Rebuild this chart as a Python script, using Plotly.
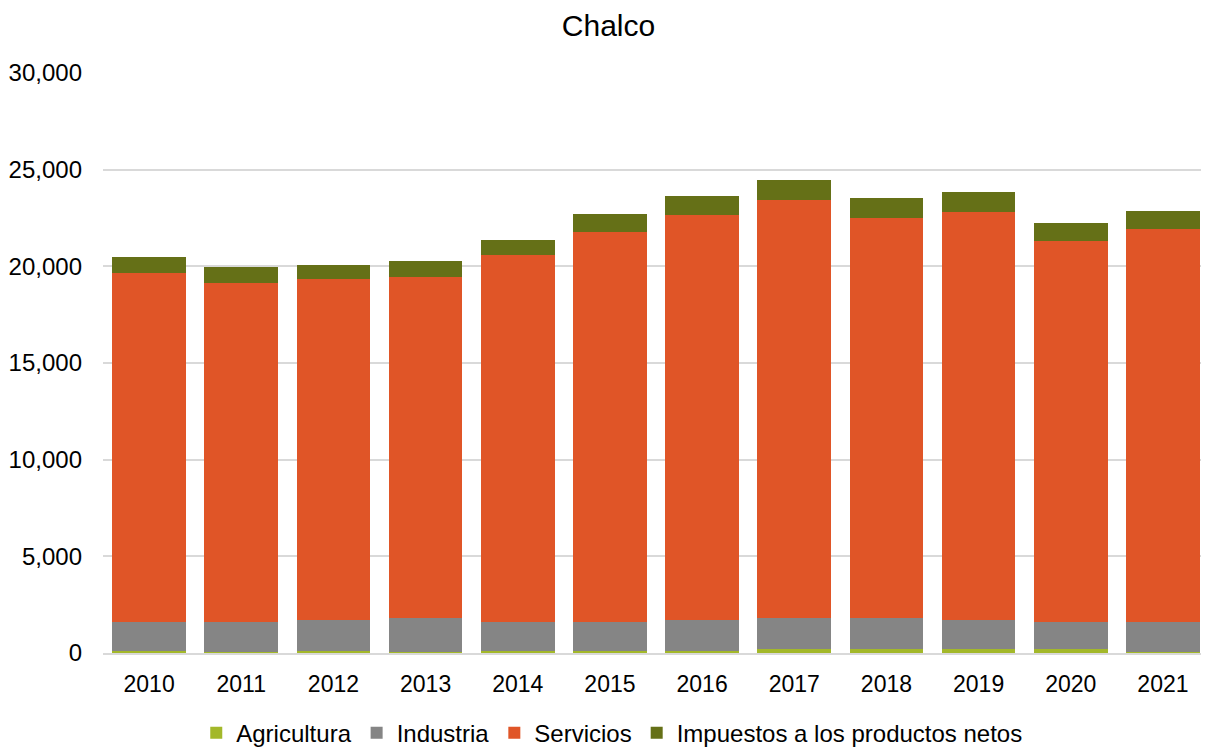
import plotly.graph_objects as go

years = ["2010", "2011", "2012", "2013", "2014", "2015", "2016", "2017", "2018", "2019", "2020", "2021"]
agricultura = [100, 30, 100, 40, 100, 100, 100, 200, 200, 200, 200, 30]
industria = [1500, 1570, 1600, 1760, 1500, 1500, 1600, 1600, 1600, 1500, 1400, 1570]
servicios = [18040, 17520, 17650, 17650, 18970, 20200, 20930, 21640, 20710, 21120, 19690, 20310]
impuestos = [820, 820, 710, 810, 810, 930, 1030, 1030, 1030, 1030, 930, 930]

series = [
    ("Agricultura", agricultura, "#a3b82a"),
    ("Industria", industria, "#858585"),
    ("Servicios", servicios, "#e05527"),
    ("Impuestos a los productos netos", impuestos, "#657017"),
]

fig = go.Figure()
for name, vals, col in series:
    fig.add_trace(go.Bar(x=years, y=vals, name=name, marker=dict(color=col, line=dict(width=0))))

fig.update_layout(
    barmode="stack",
    bargap=0.2,
    width=1201, height=741,
    paper_bgcolor="white", plot_bgcolor="white",
    font=dict(family="Liberation Sans, Arial, sans-serif", size=24, color="#000000"),
    title=dict(text="Chalco", x=0.5, xanchor="center", yref="container", y=0.99, yanchor="top",
               font=dict(size=30, color="#000000")),
    margin=dict(l=95, r=0, t=64, b=96, autoexpand=False),
    xaxis=dict(showgrid=False, showline=True, linecolor="#d9d9d9", linewidth=1.5,
               ticks="", tickfont=dict(size=23), ticklabelstandoff=10, automargin=False),
    yaxis=dict(range=[0, 30050], tickvals=[0, 5000, 10000, 15000, 20000, 25000, 30000],
               tickformat=",", showgrid=True,
               gridcolor="#d9d9d9", gridwidth=1.5, zeroline=False, ticks="",
               tickfont=dict(size=24), ticklabelstandoff=20, automargin=False),
    legend=dict(orientation="h", x=0.46, xanchor="center", y=-0.138, yanchor="middle",
                font=dict(size=24), traceorder="normal", itemwidth=30),
)

fig.write_html("out.html")
